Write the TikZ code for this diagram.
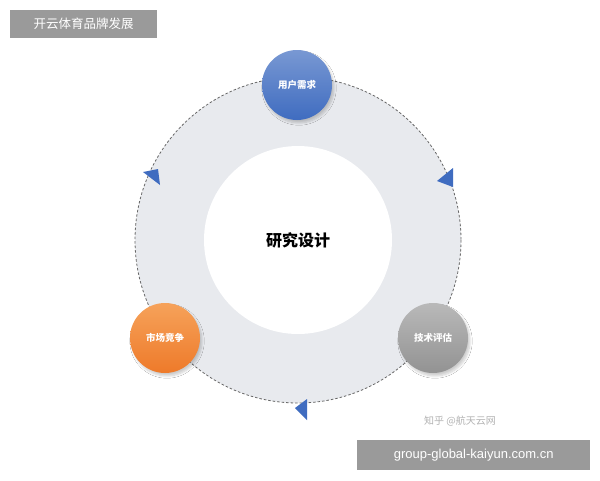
\documentclass[tikz,border=0pt]{standalone}
\usepackage{fontspec}
\setmainfont{Noto Sans CJK SC}
\setsansfont{Liberation Sans}
\usetikzlibrary{shadows.blur}
\begin{document}
\begin{tikzpicture}[x=1pt,y=-1pt,
  ball/.style={circle,minimum size=70pt,inner sep=0pt,text=white,font=\bfseries\fontsize{9.5}{10}\selectfont,blur shadow={shadow blur steps=8,shadow xshift=2pt,shadow yshift=-3pt,shadow opacity=20}},
  tag/.style={fill=taggray,text=white,inner sep=0pt,anchor=north west}]
\definecolor{arrowblue}{HTML}{3F6CC0}
\definecolor{taggray}{HTML}{9A9A9A}
\definecolor{ringgray}{HTML}{E8EAEE}
\definecolor{orA}{HTML}{F6A25A}
\definecolor{orB}{HTML}{EE7A2A}
\useasboundingbox (0,0) rectangle (600,480);
\fill[white] (0,0) rectangle (600,480);
\fill[ringgray] (298,240) circle (163);
\draw[gray!80!black,dashed,line width=0.8pt,dash pattern=on 2.5pt off 2pt] (298,240) circle (163);
\fill[white] (298,240) circle (94);
\node (c) at (298,240) {\bfseries\fontsize{16}{18}\selectfont 研究设计};
\node[ball,top color=arrowblue!70!white,bottom color=arrowblue] (a) at (297,85) {用户需求};
\node[ball,top color=orA,bottom color=orB] (b) at (165,338) {市场竞争};
\node[ball,top color=gray!55,bottom color=gray!85] (d) at (433,338) {技术评估};
\fill[arrowblue] (143,172) -- (158,169) -- (160,185) -- cycle;
\fill[arrowblue] (437,181) -- (453,168) -- (453,187) -- cycle;
\fill[arrowblue] (295,408) -- (307,399) -- (307,420) -- cycle;
\node[text=gray!60,font=\fontsize{10}{11}\selectfont] (w) at (460,421) {知乎 @航天云网};
\node[tag,minimum width=147pt,minimum height=28pt,anchor=north west] (t1) at (10,10) {};
\node[text=white,font=\fontsize{12.5}{13}\selectfont] at (t1.center) {开云体育品牌发展};
\node[tag,minimum width=233pt,minimum height=30pt,anchor=north west] (t2) at (357,440) {};
\node[text=white,font=\sffamily\fontsize{13}{14}\selectfont] at (t2.center) {group-global-kaiyun.com.cn};
\end{tikzpicture}
\end{document}
